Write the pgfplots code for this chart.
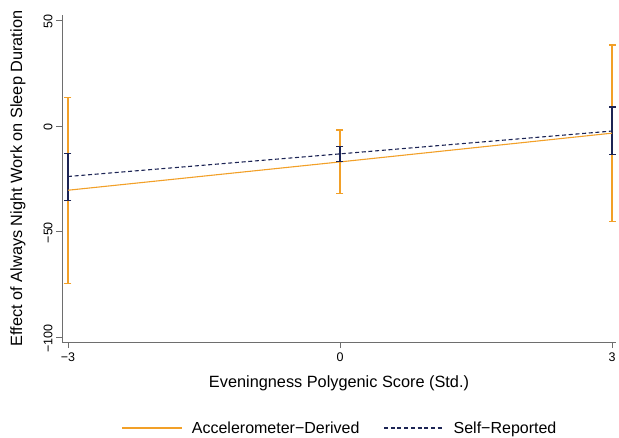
\documentclass[border=0pt]{standalone}
\usepackage{fontspec}
\setmainfont{Liberation Sans}
\usepackage{pgfplots}
\pgfplotsset{compat=1.18}
\definecolor{sorange}{RGB}{242,160,40}
\definecolor{snavy}{RGB}{28,36,84}
\definecolor{axgray}{RGB}{110,110,110}
\begin{document}
\begin{tikzpicture}
\useasboundingbox (-62pt,-95pt) rectangle (557pt,342pt);
\begin{axis}[
  at={(0pt,0pt)}, anchor=south west,
  scale only axis, width=554pt, height=327pt,
  xmin=-3.066, xmax=3.044, ymin=-102.2, ymax=52.5,
  axis x line*=bottom, axis y line*=left,
  axis line style={axgray, line width=0.8pt},
  tick align=outside, major tick length=6pt,
  tick style={axgray, line width=0.8pt},
  xtick={-3,0,3}, xticklabels={−3,0,3},
  ytick={-100,-50,0,50}, yticklabels={−100,−50,0,50},
  tick label style={font=\fontsize{12.5}{13}\selectfont, text=black},
  yticklabel style={rotate=90, anchor=south, xshift=-1pt},
  xticklabel style={anchor=north, yshift=-1pt},
  xlabel={Eveningness Polygenic Score (Std.)},
  ylabel={Effect of Always Night Work on Sleep Duration},
  label style={font=\fontsize{16.3}{17}\selectfont},
  xlabel style={at={(axis description cs:0.5,-0.125)}, anchor=center},
  ylabel style={at={(axis description cs:-0.0794,0.5)}, anchor=center},
  legend style={at={(axis description cs:0.502,-0.263)}, anchor=center,
    draw=none, fill=none, font=\fontsize{16}{17}\selectfont,
    /tikz/every odd column/.append style={column sep=7pt},
    /tikz/every even column/.append style={column sep=22pt}},
  legend columns=2,
  legend image code/.code={\draw[#1] (0pt,0pt) -- (60pt,0pt);},
  clip=false,
]
% confidence intervals (orange)
\addplot[sorange, line width=1.1pt, mark=-, mark size=3.5pt, forget plot] coordinates {(-3,13.3) (-3,-74.4)};
\addplot[sorange, line width=1.1pt, mark=-, mark size=3.5pt, forget plot] coordinates {(0,-1.9) (0,-32.0)};
\addplot[sorange, line width=1.1pt, mark=-, mark size=3.5pt, forget plot] coordinates {(3,38.3) (3,-45.3)};
% confidence intervals (navy)
\addplot[snavy, line width=1.1pt, mark=-, mark size=3.5pt, forget plot] coordinates {(-3,-12.9) (-3,-35.4)};
\addplot[snavy, line width=1.1pt, mark=-, mark size=3.5pt, forget plot] coordinates {(0,-9.7) (0,-16.7)};
\addplot[snavy, line width=1.1pt, mark=-, mark size=3.5pt, forget plot] coordinates {(3,9.0) (3,-13.7)};
% point estimate lines
\addplot[sorange, line width=1.1pt, mark=none] coordinates {(-3,-30.4) (0,-17.0) (3,-3.4)};
\addlegendentry{Accelerometer−Derived}
\addplot[snavy, line width=1.1pt, mark=none, dash pattern=on 4pt off 2.7pt] coordinates {(-3,-23.9) (0,-13.2) (3,-2.4)};
\addlegendentry{Self−Reported}
\end{axis}
\end{tikzpicture}
\end{document}
